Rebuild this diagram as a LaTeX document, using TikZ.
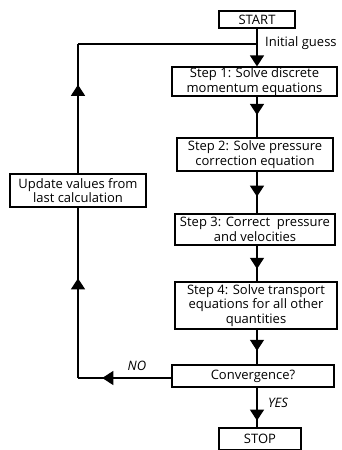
\documentclass[tikz,border=0pt]{standalone}
\usepackage{fontspec}
\setmainfont{Open Sans}
\usetikzlibrary{arrows.meta,decorations.markings}
\tikzset{
  box/.style={draw, line width=1.2pt, inner sep=0pt, align=center, font=\fontsize{13}{14.5}\selectfont},
  conn/.style={line width=1.2pt},
  tipx/.style={postaction={decorate}, decoration={markings, mark=at position #1 with {\arrow{Triangle[width=14pt,length=11pt]}}}},
  lbl/.style={font=\fontsize{13}{14}\selectfont, inner sep=0pt},
}
\begin{document}
\begin{tikzpicture}[x=1pt,y=-1pt]
\useasboundingbox (0,0) rectangle (342,450);
\node[box, minimum width=76pt, minimum height=17pt] (start) at (257,19.5) {START};
\node[box, minimum width=165pt, minimum height=29pt] (s1) at (254.5,81.5) {Step 1: Solve discrete\\momentum equations};
\node[box, minimum width=156pt, minimum height=33pt] (s2) at (255,154.5) {Step 2: Solve pressure\\correction equation};
\node[box, minimum width=160pt, minimum height=31pt] (s3) at (255,229.5) {Step 3: Correct\ \ pressure\\and velocities};
\node[box, minimum width=162pt, minimum height=47pt] (s4) at (256,305.5) {Step 4: Solve transport\\equations for all other\\quantities};
\node[box, minimum width=162pt, minimum height=22pt] (conv) at (253,376) {Convergence?};
\node[box, minimum width=82pt, minimum height=22pt] (stop) at (260,439) {STOP};
\node[box, minimum width=136pt, minimum height=33pt] (upd) at (78,190.5) {Update values from\\last calculation};
\coordinate (join) at (257,44);
\coordinate (tl) at (78,44);
\coordinate (bl) at (78,378);
\node[lbl, anchor=west] (ig) at (265,43) {Initial guess};
\node[lbl, font=\fontsize{13}{14}\selectfont\itshape] (no) at (137,366) {NO};
\node[lbl, font=\fontsize{13}{14}\selectfont\itshape] (yes) at (278,403) {YES};
% main column
\draw[conn] (start.south -| join) -- (join);
\draw[conn, -{Triangle[width=14pt,length=11pt]}] (join) -- (s1.north -| join);
\draw[conn, tipx=0.45] (s1.south -| join) -- (s2.north -| join);
\draw[conn, tipx=0.6] (s2.south -| join) -- (s3.north -| join);
\draw[conn, tipx=0.65] (s3.south -| join) -- (s4.north -| join);
\draw[conn, tipx=0.61] (s4.south -| join) -- (conv.north -| join);
\draw[conn, tipx=0.83] (conv.south -| join) -- (stop.north -| join);
% loop back
\draw[conn, tipx=0.74] (conv.west |- bl) -- (bl);
\draw[conn, tipx=0.585] (bl) -- (upd.south);
\draw[conn, tipx=0.685] (upd.north) -- (tl);
\draw[conn] (tl) -- (join);
\end{tikzpicture}
\end{document}
